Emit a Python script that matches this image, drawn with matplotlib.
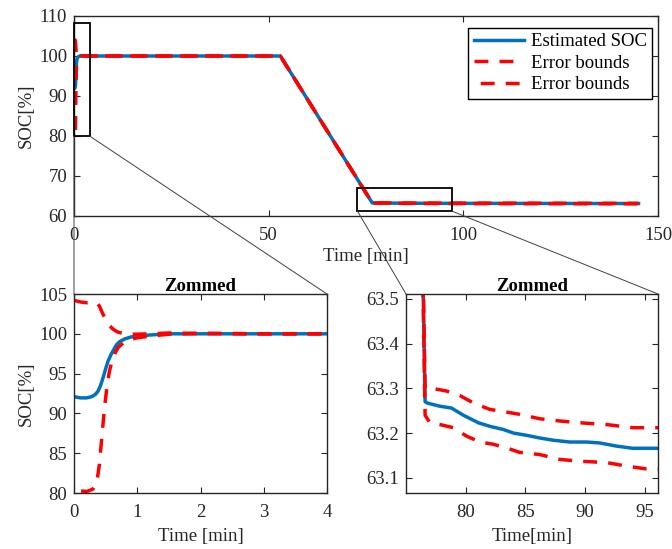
import matplotlib
matplotlib.use("Agg")
import matplotlib.pyplot as plt
from matplotlib.patches import Rectangle, ConnectionPatch
import numpy as np

plt.rcParams['font.family'] = ['Liberation Serif', 'DejaVu Serif']
FS = 13.5
plt.rcParams['font.size'] = FS

# ---- data: start transient (0-4 min) ----
t_start_soc = [0, 0.1, 0.2, 0.28, 0.34, 0.38, 0.42, 0.46, 0.50, 0.54, 0.58, 0.62, 0.67, 0.72,
               0.8, 0.9, 1.0, 1.2, 1.5, 2, 3, 4]
soc_start = [92.1, 91.95, 91.95, 92.1, 92.4, 92.8, 93.5, 94.5, 95.6, 96.6, 97.3, 97.9, 98.6, 99.0,
             99.35, 99.6, 99.7, 99.85, 100.0, 100.0, 100.0, 100.0]
t_start_up = [0, 0.1, 0.2, 0.3, 0.36, 0.4, 0.45, 0.5, 0.55, 0.6, 0.65, 0.7, 0.8, 0.9, 1.0,
              1.2, 1.5, 2, 3, 4]
up_start = [104.2, 104.0, 103.9, 103.95, 103.9, 103.5, 102.6, 101.8, 101.2, 100.7, 100.4, 100.2,
            100.0, 99.95, 99.95, 100.0, 100.1, 100.05, 100.0, 100.0]
t_start_lo = [0, 0.1, 0.21, 0.3, 0.36, 0.4, 0.44, 0.48, 0.52, 0.56, 0.6, 0.65, 0.7, 0.8, 0.9,
              1.0, 1.2, 1.5, 2, 3, 4]
lo_start = [80.3, 80.25, 80.2, 80.5, 81.3, 83.5, 87.0, 90.5, 93.3, 95.3, 96.6, 97.6, 98.3, 99.0,
            99.3, 99.5, 99.7, 99.95, 100.05, 100.0, 100.0]

# ---- data: discharge knee ----
t_knee = [53.0]
soc_knee = [100.0]

# ---- data: rest period (76.6-145 min) ----
t_end_soc = [76.6, 76.8, 77.85, 78.8, 79.8, 81.06, 82.03, 83.15, 84.0, 85.1, 86.2,
             87.33, 88.7, 90.1, 91.2, 92.6, 93.97, 96.0, 110, 125, 145]
soc_end = [63.27, 63.267, 63.26, 63.256, 63.24, 63.223, 63.215, 63.208, 63.2, 63.195, 63.189,
           63.184, 63.18, 63.18, 63.178, 63.171, 63.166, 63.166, 63.15, 63.13, 63.12]
t_end_up = [76.6, 77.0, 78.4, 79.5, 80.6, 82.0, 83.4, 84.5, 86.2, 87.9, 89.6, 91.8, 94.0, 96.0,
            110, 125, 145]
up_end = [63.30, 63.301, 63.294, 63.284, 63.268, 63.253, 63.247, 63.242, 63.232, 63.227, 63.223,
          63.219, 63.212, 63.212, 63.2, 63.18, 63.16]
t_end_lo = [76.6, 77.0, 77.85, 78.97, 80.08, 81.2, 82.3, 83.4, 84.5, 86.2, 87.9, 89.6, 91.8,
            93.5, 95.1, 96.0, 110, 125, 145]
lo_end = [63.24, 63.223, 63.219, 63.212, 63.193, 63.18, 63.175, 63.167, 63.157, 63.152, 63.141,
          63.137, 63.134, 63.126, 63.12, 63.12, 63.1, 63.08, 63.07]

t_soc = t_start_soc + t_knee + t_end_soc
soc = soc_start + soc_knee + soc_end
t_up = t_start_up + t_knee + t_end_up
up = up_start + soc_knee + up_end
t_lo = t_start_lo + t_knee + t_end_lo
lo = lo_start + soc_knee + lo_end

BLUE = '#0072BD'
RED = '#FF0000'
AXC = '#262626'
LW = 2.5
DASH = (4.0, 3.2)
DPI = 100

fig = plt.figure(figsize=(6.72, 5.49), dpi=DPI)
W, H = 672.0, 549.0


def make_ax(x0, y0, x1, y1):
    ax = fig.add_axes([x0 / W, 1 - y1 / H, (x1 - x0) / W, (y1 - y0) / H])
    for s in ax.spines.values():
        s.set_color(AXC)
        s.set_linewidth(1.0)
    ax.tick_params(direction='in', top=True, right=True, length=4, width=0.8,
                   colors=AXC, labelsize=FS, labelcolor=AXC)
    ax.tick_params(axis='x', pad=8)
    ax.tick_params(axis='y', pad=5)
    return ax


def path_len(ax, t, y, tmax):
    n = sum(1 for v in t if v <= tmax)
    pts = ax.transData.transform(np.column_stack([t[:n], y[:n]]))
    d = np.diff(pts, axis=0)
    return float(np.hypot(d[:, 0], d[:, 1]).sum())


def draw(ax, shift_px=0.0):
    # align dash phase of the two bounds where they merge (t = 4 min)
    l_up = path_len(ax, t_up, up, 4)
    l_lo = path_len(ax, t_lo, lo, 4)
    off_pts = (l_up - l_lo + shift_px) * 72.0 / DPI
    off = (off_pts / LW) % (DASH[0] + DASH[1])
    ax.plot(t_soc, soc, color=BLUE, lw=LW, label='Estimated SOC')
    ax.plot(t_up, up, color=RED, lw=LW, ls=(0, DASH), label='Error bounds')
    ax.plot(t_lo, lo, color=RED, lw=LW, ls=(off, DASH), label='Error bounds')


# top axes
ax1 = make_ax(74, 16, 658, 216)
ax1.set_xlim(0, 150)
ax1.set_ylim(60, 110)
draw(ax1, shift_px=4.0)
ax1.set_xticks([0, 50, 100, 150])
ax1.set_yticks([60, 70, 80, 90, 100, 110])
ax1.set_xlabel('Time [min]', color=AXC, labelpad=2.5)
ax1.set_ylabel('SOC[%]', color=AXC, labelpad=3)
leg = ax1.legend(loc='upper right', bbox_to_anchor=(0.9897, 0.94), frameon=True, fancybox=False,
                 edgecolor='black', framealpha=1, fontsize=FS, handlelength=2.7,
                 labelspacing=0.23, borderpad=0.28, handletextpad=0.35, borderaxespad=0)
leg.get_frame().set_linewidth(1.0)

r1 = Rectangle((0, 80), 4, 28.2, fill=False, edgecolor='black', lw=1.3, zorder=5, clip_on=False)
ax1.add_patch(r1)
r2 = Rectangle((72.8, 61.25), 24.2, 5.65, fill=False, edgecolor='black', lw=1.3, zorder=5)
ax1.add_patch(r2)

# bottom-left axes
ax2 = make_ax(74, 294, 327, 493)
ax2.set_xlim(0, 4)
ax2.set_ylim(80, 105)
draw(ax2, shift_px=0.0)
ax2.set_xticks([0, 1, 2, 3, 4])
ax2.set_yticks([80, 85, 90, 95, 100, 105])
ax2.set_xlabel('Time [min]', color=AXC, labelpad=5)
ax2.set_ylabel('SOC[%]', color=AXC, labelpad=3)
ax2.set_title('Zommed', fontweight='bold', fontsize=FS, pad=2)

# bottom-right axes
ax3 = make_ax(406, 294, 658, 493)
ax3.set_xlim(75.0, 96.1)
ax3.set_ylim(63.066, 63.511)
draw(ax3)
ax3.set_xticks([80, 85, 90, 95])
ax3.set_yticks([63.1, 63.2, 63.3, 63.4, 63.5])
ax3.set_yticklabels(['63.1', '63.2', '63.3', '63.4', '63.5'])
ax3.set_xlabel('Time[min]', color=AXC, labelpad=5)
ax3.set_title('Zommed', fontweight='bold', fontsize=FS, pad=2)

# connectors
lc = '#404040'
for (xa, ya), (xb, yb), axb in [((0, 80), (0, 1), ax2), ((4, 80), (1, 1), ax2),
                                ((72.8, 61.25), (0, 1), ax3), ((97.0, 61.25), (1, 1), ax3)]:
    cp = ConnectionPatch(xyA=(xa, ya), coordsA=ax1.transData, xyB=(xb, yb),
                         coordsB=axb.transAxes, color=lc, lw=0.7, zorder=10)
    fig.add_artist(cp)

fig.savefig('out.png', dpi=DPI)
